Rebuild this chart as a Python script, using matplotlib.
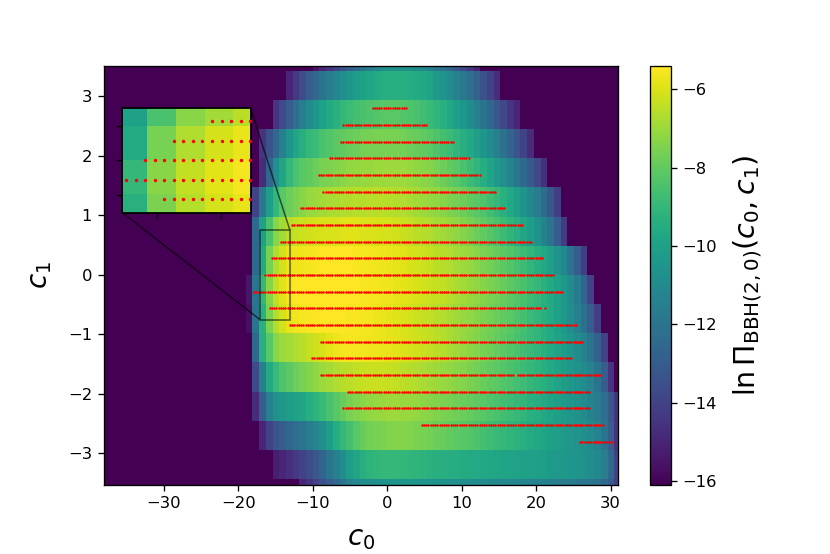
import numpy as np
import matplotlib
matplotlib.use("Agg")
import matplotlib.pyplot as plt
from mpl_toolkits.axes_grid1.inset_locator import mark_inset

VMIN, VMAX = -16.1, -5.41
n_cols = 78
c0_edges = -38.8 + 0.9 * np.arange(n_cols + 1)
c1_edges = 0.49 * np.arange(8, -9, -1)

# (first column, values) for each band of c1, top to bottom; other cells are background
row_starts = [32, 28, 26, 24, 24, 23, 23, 23, 22, 22, 23, 23, 23, 24, 26, 30]
row00 = [-15.5,-15,-14.5,-14,-13.5,-13,-12.5,-12,-11.6,-11.2,-10.9,-10.7,-10.6,-10.6,-10.7,-10.9,-11.1,-11.4,-11.8,-12.2,-12.7,-13.2,-13.8,-14.4,-15]
row01 = [-15,-14.3,-13.6,-13,-12.5,-12,-11.6,-11.2,-10.8,-10.5,-10.2,-10,-9.8,-9.6,-9.5,-9.4,-9.4,-9.4,-9.5,-9.6,-9.7,-9.9,-10.3,-10.6,-11,-11.4,-11.8,-12.3,-12.8,-13.4,-14,-14.7]
row02 = [-14.5,-13.7,-13,-12.3,-11.6,-11,-10.5,-10,-9.6,-9.3,-9,-8.8,-8.6,-8.5,-8.4,-8.3,-8.2,-8.2,-8.2,-8.3,-8.4,-8.5,-8.7,-8.9,-9.1,-9.4,-9.7,-10.1,-10.5,-11,-11.5,-12,-12.6,-13.2,-13.8,-14.5,-15]
row03 = [-14.5,-13.4,-12.5,-11.5,-10.5,-9.8,-9.4,-9,-8.8,-8.5,-8.3,-8.1,-8,-7.9,-7.8,-7.7,-7.65,-7.6,-7.6,-7.6,-7.6,-7.7,-7.8,-7.9,-8,-8.2,-8.4,-8.6,-8.8,-9.1,-9.4,-9.7,-10.1,-10.5,-11,-11.5,-12.1,-12.7,-13.3,-14,-14.8]
row04 = [-14.8,-12.6,-10.8,-9.8,-9,-8.5,-8.2,-8,-7.8,-7.6,-7.5,-7.4,-7.3,-7.2,-7.15,-7.1,-7.05,-7,-7,-7,-7,-7,-7.1,-7.2,-7.3,-7.4,-7.6,-7.8,-8,-8.2,-8.5,-8.8,-9.1,-9.5,-9.9,-10.3,-10.8,-11.3,-11.9,-12.5,-13.1,-13.8,-14.6]
row05 = [-14,-11.8,-10.2,-9,-8.2,-7.8,-7.5,-7.3,-7.1,-7,-6.9,-6.8,-6.75,-6.7,-6.65,-6.6,-6.6,-6.55,-6.55,-6.55,-6.6,-6.65,-6.7,-6.8,-6.9,-7,-7.1,-7.2,-7.35,-7.5,-7.65,-7.8,-8,-8.2,-8.4,-8.7,-9,-9.3,-9.7,-10.1,-10.6,-11.1,-11.7,-12.4,-13.2,-14.2]
row06 = [-12.5,-10,-8.5,-7.3,-6.9,-6.5,-6.35,-6.25,-6.2,-6.1,-6.05,-6,-6,-5.95,-5.95,-5.95,-6,-6,-6.05,-6.1,-6.15,-6.2,-6.3,-6.4,-6.5,-6.6,-6.7,-6.85,-6.95,-7.05,-7.2,-7.4,-7.6,-7.8,-8,-8.25,-8.5,-8.8,-9.1,-9.4,-9.8,-10.2,-10.7,-11.3,-12,-13,-14.3]
row07 = [-12.5,-9.6,-7.6,-6.7,-6.1,-5.75,-5.7,-5.65,-5.6,-5.5,-5.45,-5.45,-5.45,-5.45,-5.45,-5.5,-5.55,-5.6,-5.65,-5.7,-5.75,-5.85,-5.95,-6.05,-6.15,-6.25,-6.35,-6.5,-6.6,-6.7,-6.85,-7,-7.15,-7.3,-7.5,-7.7,-7.9,-8.1,-8.3,-8.55,-8.8,-9.1,-9.4,-9.7,-10.1,-10.6,-11.2,-12,-13,-14.2]
row08 = [-15.5,-12,-9,-7.3,-6.4,-5.9,-5.55,-5.45,-5.42,-5.42,-5.42,-5.42,-5.42,-5.42,-5.42,-5.42,-5.45,-5.5,-5.55,-5.6,-5.65,-5.7,-5.8,-5.85,-5.95,-6.05,-6.15,-6.25,-6.35,-6.45,-6.6,-6.75,-6.9,-7.05,-7.2,-7.35,-7.5,-7.7,-7.9,-8.1,-8.3,-8.5,-8.75,-9,-9.3,-9.6,-10,-10.4,-11,-11.7,-12.7,-14]
row09 = [-15.7,-12,-9.3,-7.5,-6.6,-6.1,-5.8,-5.65,-5.55,-5.5,-5.45,-5.45,-5.45,-5.45,-5.45,-5.5,-5.5,-5.55,-5.6,-5.7,-5.75,-5.85,-5.95,-6.05,-6.15,-6.25,-6.35,-6.45,-6.55,-6.7,-6.8,-6.95,-7.1,-7.2,-7.35,-7.5,-7.7,-7.85,-8,-8.2,-8.4,-8.6,-8.85,-9.1,-9.35,-9.65,-10,-10.4,-10.9,-11.5,-12.2,-13,-14.2]
row10 = [-12.5,-9.4,-8.2,-7.3,-7,-6.9,-6.7,-6.55,-6.35,-6.2,-6.05,-5.85,-5.7,-5.55,-5.55,-5.55,-5.6,-5.65,-5.7,-5.75,-5.8,-5.9,-6,-6.1,-6.2,-6.3,-6.4,-6.5,-6.65,-6.8,-6.95,-7.1,-7.25,-7.4,-7.6,-7.75,-7.95,-8.15,-8.3,-8.5,-8.7,-8.9,-9.1,-9.35,-9.6,-9.9,-10.2,-10.5,-10.9,-11.4,-12,-12.8,-14]
row11 = [-13.7,-11.5,-9.6,-8.9,-8.4,-8.1,-7.8,-7.6,-7.4,-7.2,-7,-6.85,-6.7,-6.6,-6.5,-6.4,-6.35,-6.3,-6.3,-6.3,-6.35,-6.4,-6.5,-6.6,-6.7,-6.8,-6.9,-7,-7.1,-7.2,-7.3,-7.4,-7.55,-7.7,-7.85,-8,-8.15,-8.3,-8.45,-8.6,-8.8,-9,-9.2,-9.4,-9.65,-9.9,-10.2,-10.4,-10.7,-11,-11.4,-12,-13,-14.5]
row12 = [-14.8,-13,-11.5,-10.7,-10.4,-10.2,-10,-9.8,-9.5,-9.2,-8.9,-8.5,-8.2,-7.9,-7.6,-7.4,-7.3,-7.2,-7.1,-7.05,-7,-7,-7.05,-7.1,-7.15,-7.25,-7.35,-7.45,-7.55,-7.65,-7.75,-7.85,-7.95,-8.05,-8.2,-8.35,-8.5,-8.65,-8.8,-8.95,-9.1,-9.3,-9.5,-9.7,-9.9,-10.1,-10.3,-10.5,-10.75,-11,-11.3,-11.7,-12.3,-13.2,-14.5]
row13 = [-15,-14,-13.3,-13,-12.6,-12.3,-12,-11.7,-11.2,-10.8,-10.2,-9.5,-9,-8.6,-8.2,-7.9,-7.7,-7.6,-7.5,-7.45,-7.4,-7.4,-7.45,-7.5,-7.6,-7.7,-7.8,-7.9,-8,-8.1,-8.2,-8.3,-8.45,-8.6,-8.75,-8.9,-9,-9.1,-9.25,-9.4,-9.55,-9.7,-9.85,-10,-10.15,-10.3,-10.45,-10.6,-10.8,-11,-11.4,-12,-13,-14.5]
row14 = [-15.2,-15,-14.6,-14.3,-14,-13.6,-13.2,-12.7,-12,-11.5,-10.9,-10.2,-9.8,-9.4,-9.2,-9.1,-9,-9,-9,-9.05,-9.1,-9.15,-9.2,-9.3,-9.35,-9.4,-9.45,-9.5,-9.55,-9.6,-9.65,-9.7,-9.75,-9.8,-9.85,-9.9,-9.95,-10,-10.05,-10.1,-10.2,-10.3,-10.35,-10.4,-10.5,-10.6,-10.7,-10.9,-11.1,-11.6,-12.5,-14]
row15 = [-15,-14.5,-14,-13.5,-13,-12.5,-12,-11.5,-11.2,-11,-10.9,-10.8,-10.7,-10.6,-10.5,-10.5,-10.5,-10.5,-10.55,-10.6,-10.65,-10.7,-10.75,-10.8,-10.85,-10.9,-11,-11,-11.05,-11.1,-11.15,-11.2,-11.25,-11.3,-11.35,-11.4,-11.45,-11.5,-11.6,-11.65,-11.7,-11.8,-11.9,-12,-12.2,-12.5,-13,-14]
rows = [row00,row01,row02,row03,row04,row05,row06,row07,row08,row09,row10,row11,row12,row13,row14,row15]

# sampled points: c1 value and (c0 from, c0 to) stretches
point_c1 = [2.8,2.52,2.24,1.96,1.68,1.4,1.12,0.84,0.56,0.28,0,-0.28,-0.56,-0.84,-1.12,-1.4,-1.68,-1.96,-2.24,-2.52,-2.8]
point_ranges = [[(-1.9,2.5)],[(-5.8,5.2)],[(-6.3,8.8)],[(-7.8,10.9)],[(-9.3,12.4)],[(-8.5,14.7)],
                [(-11.7,15.7)],[(-12.9,18.1)],[(-14.27,19.3)],[(-15.47,20.8)],[(-16.37,22.5)],
                [(-17.9,23.7)],[(-15.77,20.6),(21.1,21.3)],[(-13.2,25.5)],[(-9,26.4)],[(-10,24.9)],
                [(-8.8,17.1),(17.5,28.8)],[(-5.4,27.3)],[(-6,27.1)],[(4.7,19),(19.4,29.1)],[(25.8,30.3)]]
cticks = [-6,-8,-10,-12,-14,-16]
xticks = [-30,-20,-10,0,10,20,30]
yticks = [-3,-2,-1,0,1,2,3]

Z = np.full((len(rows), n_cols), VMIN)
for i, (start, vals) in enumerate(zip(row_starts, rows)):
    Z[i, start:start + len(vals)] = vals

grid = -16.37 + 0.3 * np.arange(-10, 170)
px, py = [], []
for c1, segs in zip(point_c1, point_ranges):
    for a, b in segs:
        sel = grid[(grid >= a - 0.1) & (grid <= b + 0.1)]
        px.extend(sel)
        py.extend([c1] * len(sel))

plt.rcParams.update({"axes.linewidth": 0.95, "xtick.major.width": 0.95, "ytick.major.width": 0.95,
                     "xtick.major.size": 4.1, "ytick.major.size": 4.1,
                     "xtick.major.pad": 4.1, "ytick.major.pad": 4.1,
                     "xtick.labelsize": 11.8, "ytick.labelsize": 11.8})

W, H = 830, 554
fig = plt.figure(figsize=(8.3, 5.54), dpi=100)
def box(l, t, r, b):
    return [l / W, 1 - b / H, (r - l) / W, (b - t) / H]
ax = fig.add_axes(box(103.5, 66, 618, 485))
mesh = ax.pcolormesh(c0_edges, c1_edges, Z, cmap="viridis", vmin=VMIN, vmax=VMAX, rasterized=True)
ax.scatter(px, py, s=3.2, c="red", linewidths=0, zorder=3)
ax.set_xlim(-38.1, 31.0)
ax.set_ylim(-3.53, 3.51)
ax.set_xticks(xticks)
ax.set_yticks(yticks)
ax.set_xlabel(r"$c_0$", fontsize=20, labelpad=9)
ax.set_ylabel(r"$c_1$", fontsize=20, labelpad=10)

cax = fig.add_axes(box(650, 66, 671, 485))
cb = fig.colorbar(mesh, cax=cax)
cb.set_ticks(cticks)
cb.set_label(r"$\ln\Pi_{\mathrm{BBH}(2,0)}(c_0,c_1)$", fontsize=20.5, labelpad=10)

axi = fig.add_axes(box(122, 108.3, 250.5, 212.5))
axi.pcolormesh(c0_edges, c1_edges, Z, cmap="viridis", vmin=VMIN, vmax=VMAX, rasterized=True)
axi.scatter(px, py, s=6, c="red", linewidths=0, zorder=3)
axi.set_xlim(-17.1, -13.06)
axi.set_ylim(-0.75, 0.75)
axi.set_xticks([-16, -14])
axi.set_yticks([-0.5, 0, 0.5])
axi.tick_params(labelbottom=False, labelleft=False)
for s in axi.spines.values():
    s.set_linewidth(1.3)
mark_inset(ax, axi, loc1=1, loc2=3, fc="none", ec="black", lw=1.1, alpha=0.6, zorder=4)

fig.savefig("out.png", dpi=100)
